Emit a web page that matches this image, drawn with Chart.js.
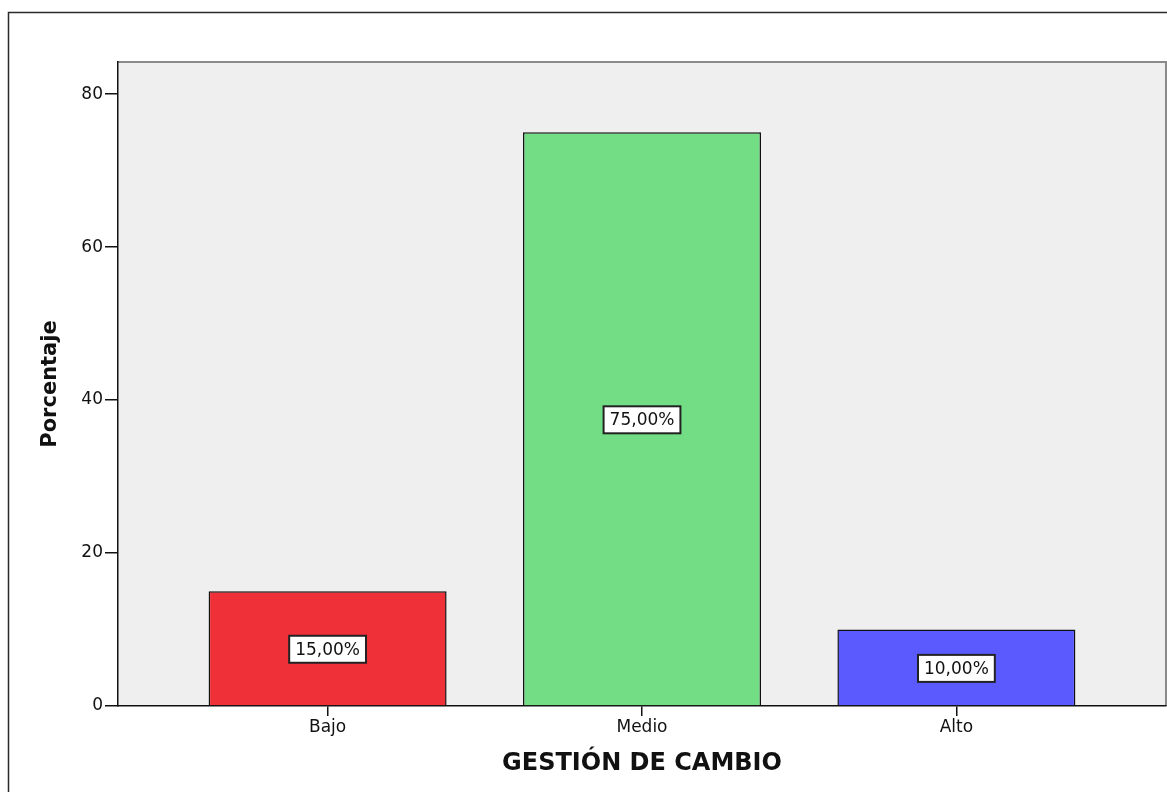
<!DOCTYPE html>
<html>
<head>
<meta charset="utf-8">
<script src="https://cdn.jsdelivr.net/npm/chart.js@4"></script>
<style>
  html, body { margin: 0; padding: 0; background: #fff; overflow: hidden; }
  #wrap { position: relative; width: 1167px; height: 792px; }
</style>
</head>
<body>
<div id="wrap"><canvas id="c" width="1167" height="792"></canvas></div>
<script>
// Distribution of the "Gestión de cambio" levels (percent of respondents)
const categories = ['Bajo', 'Medio', 'Alto'];
const percentages = [15, 75, 10];
const barColors = ['#ef3039', '#72dd84', '#5a5aff'];
const yTickValues = [0, 20, 40, 60, 80];
const xTitle = 'GESTIÓN DE CAMBIO';
const yTitle = 'Porcentaje';

const FONT = '"DejaVu Sans", "Liberation Sans", Arial, sans-serif';
Chart.defaults.font.family = FONT;
Chart.defaults.color = '#111';

// Plot background, its grey top/right edge and the outer frame line
const framePlugin = {
  id: 'framePlugin',
  beforeDraw(chart) {
    const { ctx, chartArea: a } = chart;
    ctx.save();
    ctx.fillStyle = '#efefef';
    ctx.fillRect(a.left, a.top, a.right - a.left, a.bottom - a.top);
    ctx.strokeStyle = '#8a8a8a';
    ctx.lineWidth = 2;
    ctx.beginPath();
    ctx.moveTo(a.left, a.top);
    ctx.lineTo(a.right, a.top);
    ctx.lineTo(a.right, a.bottom);
    ctx.stroke();
    ctx.strokeStyle = '#2a2a2a';
    ctx.lineWidth = 1.5;
    ctx.beginPath();
    ctx.moveTo(8.5, chart.height + 2);
    ctx.lineTo(8.5, 12.5);
    ctx.lineTo(chart.width + 2, 12.5);
    ctx.stroke();
    ctx.restore();
  }
};

// Boxed percentage label in the middle of each bar
const valueBoxes = {
  id: 'valueBoxes',
  afterDatasetsDraw(chart) {
    const ctx = chart.ctx;
    const meta = chart.getDatasetMeta(0);
    ctx.save();
    ctx.font = '17px ' + FONT;
    ctx.textAlign = 'center';
    ctx.textBaseline = 'middle';
    meta.data.forEach((bar, i) => {
      const txt = percentages[i].toFixed(2).replace('.', ',') + '%';
      const w = ctx.measureText(txt).width + 12;
      const h = 27;
      const cx = bar.x;
      const cy = (bar.y + bar.base) / 2 + 1;
      ctx.fillStyle = '#fff';
      ctx.fillRect(cx - w / 2, cy - h / 2, w, h);
      ctx.strokeStyle = '#222';
      ctx.lineWidth = 2;
      ctx.strokeRect(cx - w / 2, cy - h / 2, w, h);
      ctx.fillStyle = '#111';
      ctx.fillText(txt, cx, cy + 1);
    });
    ctx.restore();
  }
};

new Chart(document.getElementById('c'), {
  type: 'bar',
  data: {
    datasets: [{
      data: categories.map((c, i) => ({ x: i, y: percentages[i] })),
      backgroundColor: barColors,
      borderColor: '#111',
      borderWidth: 1.5,
      barPercentage: 0.757,
      categoryPercentage: 1
    }]
  },
  options: {
    responsive: false,
    animation: false,
    devicePixelRatio: 1,
    layout: { padding: { top: 62, right: 1, left: 0, bottom: 0 } },
    plugins: { legend: { display: false }, tooltip: { enabled: false } },
    scales: {
      x: {
        type: 'linear',
        min: -2 / 3,
        max: 2 + 2 / 3,
        offset: false,
        afterBuildTicks: s => { s.ticks = categories.map((_, i) => ({ value: i })); },
        afterFit: s => { s.height = 86; },
        ticks: {
          callback: v => categories[v],
          font: { size: 17 },
          padding: 1,
          autoSkip: false,
          maxRotation: 0
        },
        grid: { drawOnChartArea: false, offset: false, tickLength: 10, color: '#111', lineWidth: 1.5 },
        border: { color: '#111', width: 1.5 },
        title: {
          display: true, text: xTitle, color: '#111',
          font: { size: 24, weight: 'bold' },
          padding: { top: 0, bottom: 14 }
        }
      },
      y: {
        min: 0,
        max: 84.2,
        afterBuildTicks: s => { s.ticks = yTickValues.map(v => ({ value: v })); },
        afterFit: s => { s.width = 118; },
        ticks: { font: { size: 17 }, padding: 2 },
        grid: { drawOnChartArea: false, tickLength: 13, color: '#111', lineWidth: 1.5 },
        border: { color: '#111', width: 1.5 },
        title: {
          display: true, text: yTitle, color: '#111',
          font: { size: 21, weight: 'bold' },
          padding: { top: 38, bottom: 0 }
        }
      }
    }
  },
  plugins: [framePlugin, valueBoxes]
});
</script>
</body>
</html>
